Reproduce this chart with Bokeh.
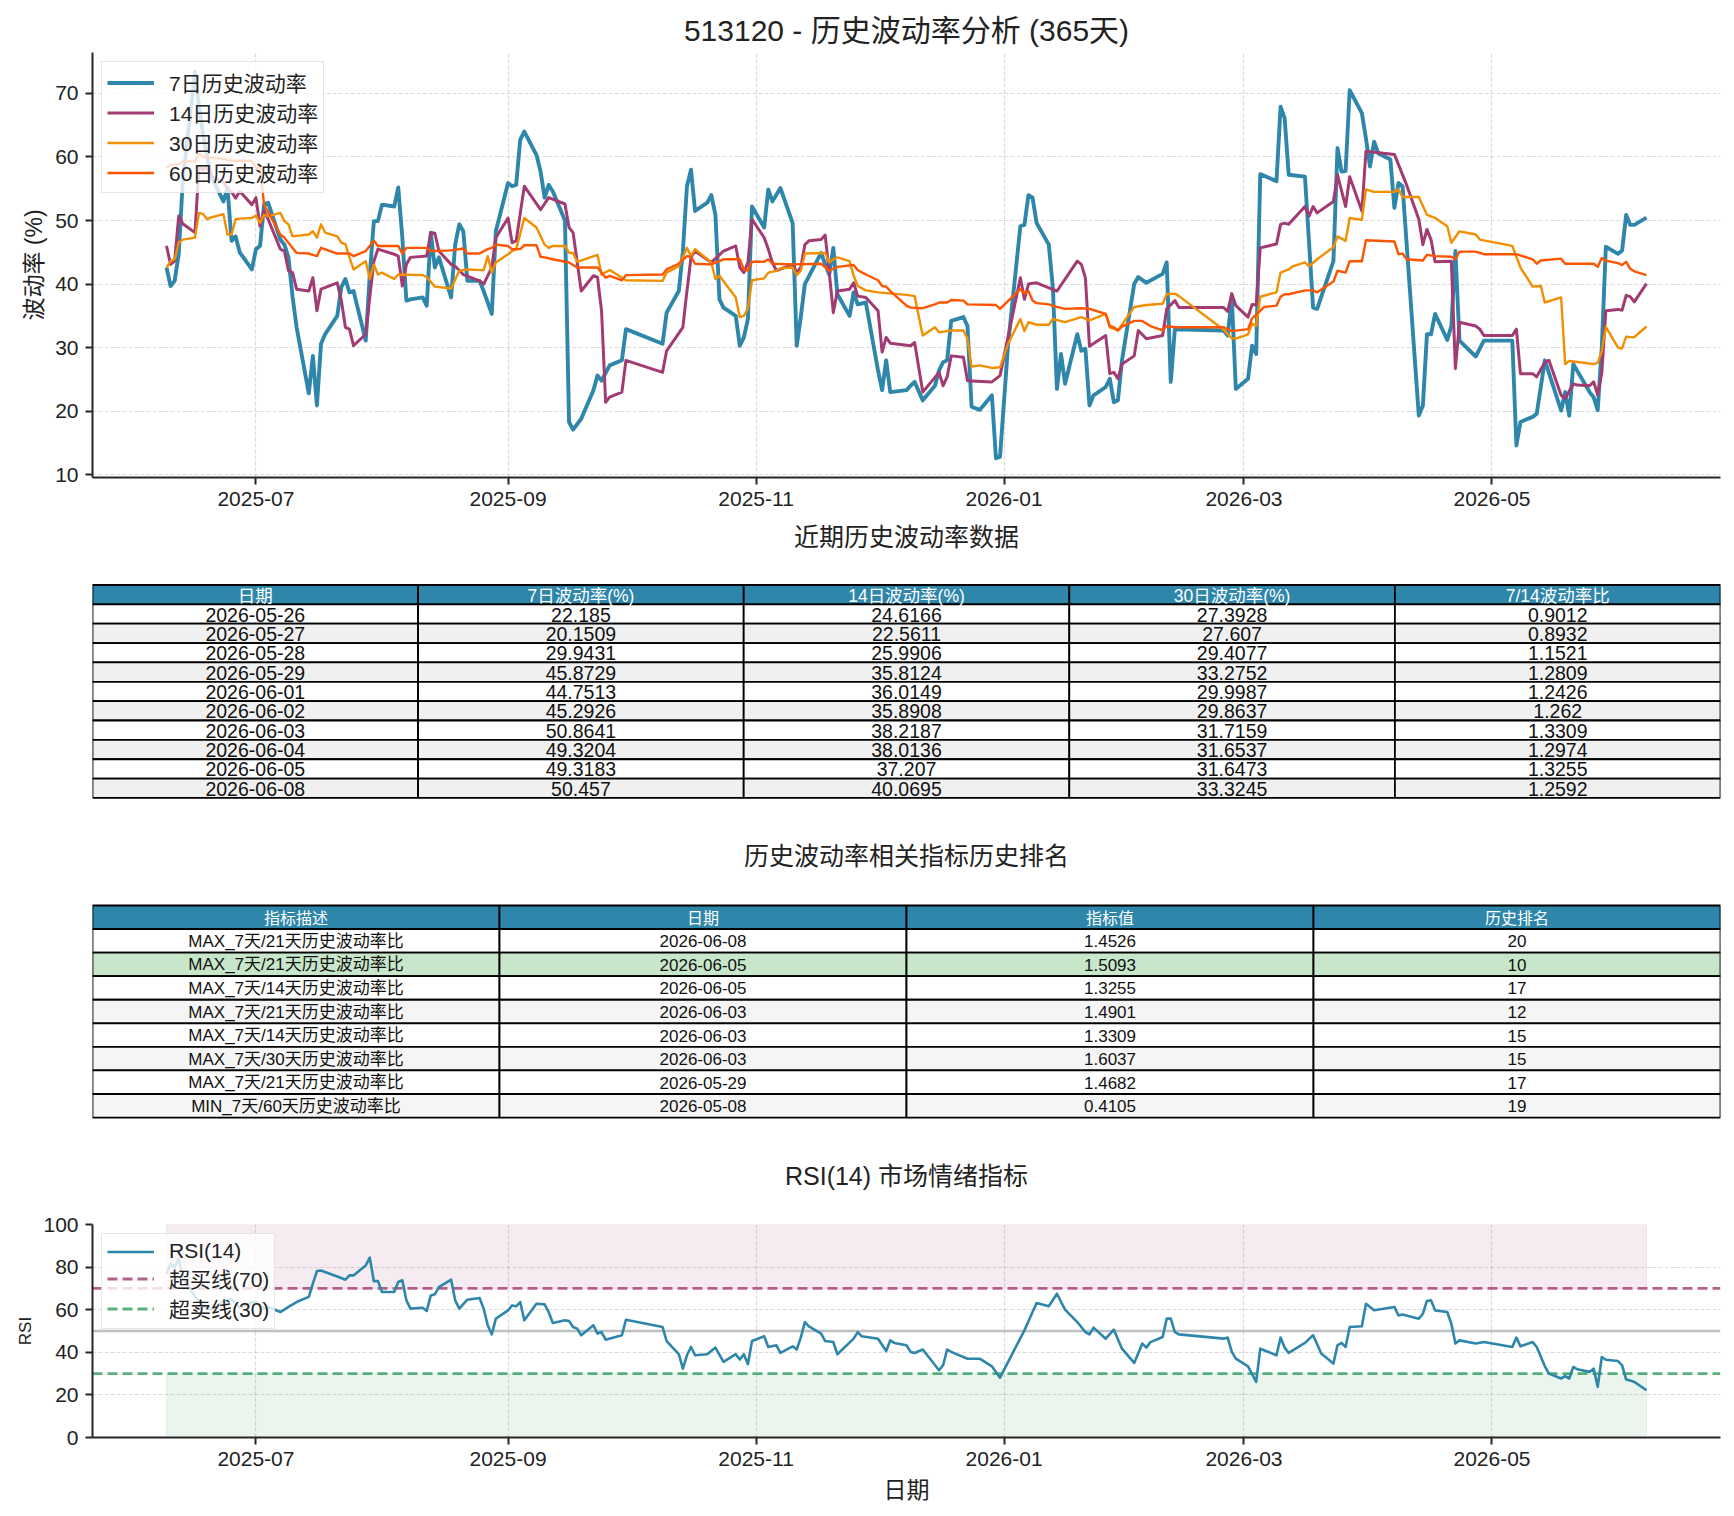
import pandas as pd
from bokeh.plotting import figure
from bokeh.models import Range1d, FixedTicker, DatetimeTickFormatter, Legend, LegendItem
from bokeh.layouts import column
from bokeh.core.properties import value
from bokeh.embed import file_html
from bokeh.resources import INLINE

FONT = "Liberation Sans, Noto Sans CJK SC"

# ---------------- data ----------------
vol7 = [
("2025-06-09",42.6),("2025-06-10",39.7),("2025-06-11",40.5),("2025-06-12",44.7),("2025-06-13",56.2),
("2025-06-16",73.4),("2025-06-17",68.0),("2025-06-18",63.5),("2025-06-19",60.0),("2025-06-20",57.0),
("2025-06-23",53.0),("2025-06-24",55.1),("2025-06-25",46.8),("2025-06-26",47.5),("2025-06-27",45.0),
("2025-06-30",42.3),("2025-07-01",45.5),("2025-07-02",46.0),("2025-07-03",52.5),("2025-07-04",52.8),
("2025-07-07",47.0),("2025-07-08",46.2),("2025-07-09",44.2),("2025-07-10",38.0),("2025-07-11",33.2),
("2025-07-14",22.8),("2025-07-15",28.7),("2025-07-16",20.9),("2025-07-17",30.6),("2025-07-18",32.1),
("2025-07-21",35.0),("2025-07-22",39.5),("2025-07-23",40.8),("2025-07-24",38.7),("2025-07-25",38.9),
("2025-07-28",31.1),("2025-07-29",41.5),("2025-07-30",49.9),("2025-07-31",49.9),("2025-08-01",52.5),
("2025-08-04",52.2),("2025-08-05",55.2),("2025-08-06",47.3),("2025-08-07",37.4),("2025-08-08",37.6),
("2025-08-11",37.9),("2025-08-12",36.6),("2025-08-13",48.1),("2025-08-14",42.6),("2025-08-15",44.2),
("2025-08-18",37.9),("2025-08-19",46.2),("2025-08-20",49.4),("2025-08-21",48.3),("2025-08-22",40.5),
("2025-08-25",40.5),("2025-08-26",38.9),("2025-08-28",35.3),("2025-08-29",48.3),("2025-09-01",55.9),
("2025-09-02",55.4),("2025-09-03",55.6),("2025-09-04",62.7),("2025-09-05",64.0),("2025-09-08",60.3),
("2025-09-09",57.7),("2025-09-10",53.6),("2025-09-11",55.6),("2025-09-12",54.6),("2025-09-15",50.0),
("2025-09-16",18.3),("2025-09-17",17.1),("2025-09-19",18.8),("2025-09-22",23.3),("2025-09-23",25.6),
("2025-09-24",24.8),("2025-09-26",27.2),("2025-09-29",28.0),("2025-09-30",32.9),("2025-10-09",30.6),
("2025-10-10",35.5),("2025-10-13",38.9),("2025-10-14",45.1),("2025-10-15",55.4),("2025-10-16",58.0),
("2025-10-17",51.5),("2025-10-20",52.8),("2025-10-21",54.0),("2025-10-22",50.9),("2025-10-23",37.6),
("2025-10-24",36.3),("2025-10-27",35.0),("2025-10-28",30.3),("2025-10-29",31.6),("2025-10-30",34.5),
("2025-10-31",52.2),("2025-11-03",48.9),("2025-11-04",54.9),("2025-11-05",53.0),("2025-11-07",55.1),
("2025-11-10",49.6),("2025-11-11",30.3),("2025-11-12",34.8),("2025-11-13",40.0),("2025-11-17",44.9),
("2025-11-18",43.1),("2025-11-19",41.5),("2025-11-20",45.7),("2025-11-21",38.4),("2025-11-24",35.0),
("2025-11-25",38.7),("2025-11-26",36.8),("2025-11-28",37.1),("2025-12-01",26.4),("2025-12-02",23.3),
("2025-12-03",28.0),("2025-12-04",23.0),("2025-12-08",23.3),("2025-12-09",24.0),("2025-12-10",24.6),
("2025-12-12",21.7),("2025-12-15",24.0),("2025-12-16",26.4),("2025-12-17",27.7),("2025-12-18",28.0),
("2025-12-19",34.2),("2025-12-22",34.8),("2025-12-23",33.4),("2025-12-24",20.7),("2025-12-26",20.2),
("2025-12-29",22.5),("2025-12-30",12.6),("2025-12-31",12.8),("2026-01-02",30.6),("2026-01-05",49.1),
("2026-01-06",49.3),("2026-01-07",54.0),("2026-01-08",53.6),("2026-01-09",49.6),("2026-01-12",46.2),
("2026-01-13",39.4),("2026-01-14",23.5),("2026-01-15",29.0),("2026-01-16",24.3),("2026-01-19",32.1),
("2026-01-20",29.5),("2026-01-21",29.8),("2026-01-22",20.9),("2026-01-23",22.5),("2026-01-26",23.8),
("2026-01-27",25.1),("2026-01-28",21.4),("2026-01-29",21.7),("2026-01-30",28.0),("2026-02-02",40.0),
("2026-02-03",41.1),("2026-02-05",40.2),("2026-02-09",41.6),("2026-02-10",43.4),("2026-02-11",24.6),
("2026-02-12",32.9),("2026-02-24",32.7),("2026-02-25",31.9),("2026-02-26",37.9),("2026-02-27",23.5),
("2026-03-02",25.1),("2026-03-03",30.3),("2026-03-04",29.0),("2026-03-05",57.3),("2026-03-09",56.2),
("2026-03-10",67.9),("2026-03-11",66.1),("2026-03-12",57.2),("2026-03-16",56.9),("2026-03-18",36.3),
("2026-03-19",36.1),("2026-03-23",43.6),("2026-03-24",61.4),("2026-03-25",57.7),("2026-03-26",57.8),
("2026-03-27",70.5),("2026-03-30",66.9),("2026-03-31",62.9),("2026-04-01",58.5),("2026-04-02",62.4),
("2026-04-03",60.6),("2026-04-06",59.6),("2026-04-07",52.0),("2026-04-08",55.9),("2026-04-09",55.4),
("2026-04-13",19.3),("2026-04-14",20.9),("2026-04-15",32.1),("2026-04-16",32.1),("2026-04-17",35.3),
("2026-04-20",31.2),("2026-04-21",33.4),("2026-04-22",45.2),("2026-04-23",31.1),("2026-04-27",28.6),
("2026-04-29",31.1),("2026-05-06",31.1),("2026-05-07",14.6),("2026-05-08",18.3),("2026-05-11",19.1),
("2026-05-12",19.6),("2026-05-14",28.0),("2026-05-18",20.1),("2026-05-19",23.0),("2026-05-20",19.3),
("2026-05-21",27.4),("2026-05-25",23.0),("2026-05-26",22.185),("2026-05-27",20.1509),("2026-05-28",29.9431),
("2026-05-29",45.8729),("2026-06-01",44.7513),("2026-06-02",45.2926),("2026-06-03",50.8641),("2026-06-04",49.3204),
("2026-06-05",49.3183),("2026-06-08",50.457)]

vol14 = [
("2025-06-09",46.0),("2025-06-10",43.1),("2025-06-11",43.6),("2025-06-12",50.7),("2025-06-13",49.5),
("2025-06-16",48.1),("2025-06-17",58.5),("2025-06-18",58.0),("2025-06-19",58.5),("2025-06-20",57.0),
("2025-06-23",56.0),("2025-06-24",55.0),("2025-06-25",54.5),("2025-06-26",53.5),("2025-06-27",54.6),
("2025-06-30",52.5),("2025-07-01",53.6),("2025-07-02",49.1),("2025-07-03",51.5),("2025-07-04",50.2),
("2025-07-07",45.5),("2025-07-08",45.2),("2025-07-09",42.1),("2025-07-10",41.8),("2025-07-11",39.2),
("2025-07-14",38.9),("2025-07-15",41.0),("2025-07-16",35.8),("2025-07-17",39.2),("2025-07-21",40.2),
("2025-07-22",37.4),("2025-07-23",33.2),("2025-07-24",32.9),("2025-07-25",30.3),("2025-07-28",32.1),
("2025-07-29",37.9),("2025-07-30",43.6),("2025-07-31",45.5),("2025-08-04",44.7),("2025-08-05",44.4),
("2025-08-06",39.7),("2025-08-07",43.1),("2025-08-08",44.2),("2025-08-12",44.4),("2025-08-13",48.1),
("2025-08-14",48.0),("2025-08-15",45.2),("2025-08-18",43.1),("2025-08-19",42.8),("2025-08-21",41.5),
("2025-08-25",40.5),("2025-08-26",40.0),("2025-08-28",42.6),("2025-08-29",47.3),("2025-09-01",50.4),
("2025-09-02",46.5),("2025-09-03",46.8),("2025-09-05",55.4),("2025-09-09",51.7),("2025-09-11",53.6),
("2025-09-15",52.6),("2025-09-16",48.9),("2025-09-17",48.1),("2025-09-19",38.9),("2025-09-22",41.3),
("2025-09-23",41.1),("2025-09-24",35.8),("2025-09-25",21.4),("2025-09-26",22.2),("2025-09-29",23.0),
("2025-09-30",28.0),("2025-10-09",26.1),("2025-10-10",29.5),("2025-10-14",33.2),("2025-10-15",38.9),
("2025-10-16",44.2),("2025-10-17",45.2),("2025-10-21",43.4),("2025-10-24",45.2),("2025-10-27",46.0),
("2025-10-28",42.6),("2025-10-29",41.8),("2025-10-30",43.4),("2025-10-31",50.2),("2025-11-03",47.3),
("2025-11-04",45.5),("2025-11-05",43.4),("2025-11-06",42.1),("2025-11-10",43.1),("2025-11-11",41.8),
("2025-11-12",42.6),("2025-11-13",46.2),("2025-11-14",46.8),("2025-11-17",47.0),("2025-11-18",47.7),
("2025-11-19",41.8),("2025-11-20",35.5),("2025-11-21",38.9),("2025-11-24",39.2),("2025-11-25",40.2),
("2025-11-26",38.1),("2025-11-28",37.9),("2025-12-01",35.8),("2025-12-02",29.3),("2025-12-03",31.6),
("2025-12-04",30.7),("2025-12-09",30.3),("2025-12-10",30.8),("2025-12-12",23.0),("2025-12-16",26.1),
("2025-12-17",24.0),("2025-12-18",25.4),("2025-12-19",28.7),("2025-12-22",28.5),("2025-12-23",24.8),
("2025-12-29",24.6),("2025-12-31",25.6),("2026-01-05",41.0),("2026-01-06",37.6),("2026-01-07",40.0),
("2026-01-09",40.2),("2026-01-14",38.9),("2026-01-19",43.6),("2026-01-20",43.1),("2026-01-21",41.0),
("2026-01-22",30.2),("2026-01-26",31.9),("2026-01-27",25.9),("2026-01-28",26.1),("2026-01-29",25.1),
("2026-01-30",27.4),("2026-02-02",28.7),("2026-02-03",32.7),("2026-02-05",31.4),("2026-02-09",31.9),
("2026-02-10",36.1),("2026-02-12",37.4),("2026-02-13",36.3),("2026-02-24",36.3),("2026-02-25",35.7),
("2026-02-26",38.5),("2026-02-27",36.6),("2026-03-02",34.8),("2026-03-03",36.8),("2026-03-04",36.7),
("2026-03-05",45.7),("2026-03-09",46.3),("2026-03-10",49.4),("2026-03-11",49.6),("2026-03-12",49.4),
("2026-03-16",52.2),("2026-03-17",50.7),("2026-03-18",52.2),("2026-03-19",51.2),("2026-03-23",53.0),
("2026-03-24",57.2),("2026-03-26",52.2),("2026-03-27",56.9),("2026-03-30",51.5),("2026-03-31",60.9),
("2026-04-07",60.4),("2026-04-08",58.8),("2026-04-10",55.6),("2026-04-13",50.2),("2026-04-14",46.2),
("2026-04-15",48.6),("2026-04-16",47.0),("2026-04-17",43.5),("2026-04-21",43.6),("2026-04-22",26.7),
("2026-04-23",34.0),("2026-04-27",33.4),("2026-04-28",32.9),("2026-04-29",31.9),("2026-05-06",31.9),
("2026-05-07",32.9),("2026-05-08",25.9),("2026-05-11",25.9),("2026-05-12",25.4),("2026-05-14",27.7),
("2026-05-15",28.0),("2026-05-18",22.5),("2026-05-19",22.0),("2026-05-21",24.3),("2026-05-22",24.1),
("2026-05-25",24.0),("2026-05-26",24.6166),("2026-05-27",22.5611),("2026-05-28",25.9906),("2026-05-29",35.8124),
("2026-06-01",36.0149),("2026-06-02",35.8908),("2026-06-03",38.2187),("2026-06-04",38.0136),("2026-06-05",37.207),
("2026-06-08",40.0695)]

vol30 = [
("2025-06-09",42.6),("2025-06-10",43.6),("2025-06-11",43.9),("2025-06-12",46.5),("2025-06-13",47.0),
("2025-06-16",47.3),("2025-06-17",51.2),("2025-06-18",51.0),("2025-06-19",50.2),("2025-06-20",50.5),
("2025-06-23",51.0),("2025-06-24",47.8),("2025-06-25",47.8),("2025-06-26",50.2),("2025-06-27",50.3),
("2025-06-30",50.4),("2025-07-01",50.8),("2025-07-02",49.6),("2025-07-03",50.9),("2025-07-04",50.7),
("2025-07-07",51.2),("2025-07-08",49.9),("2025-07-09",49.4),("2025-07-10",47.5),("2025-07-14",47.8),
("2025-07-15",48.3),("2025-07-16",47.3),("2025-07-17",49.4),("2025-07-18",48.1),("2025-07-21",47.5),
("2025-07-22",46.5),("2025-07-23",46.3),("2025-07-24",44.2),("2025-07-25",42.3),("2025-07-28",43.6),
("2025-07-29",40.8),("2025-07-30",43.1),("2025-07-31",41.5),("2025-08-01",41.8),("2025-08-04",40.8),
("2025-08-05",41.5),("2025-08-11",41.4),("2025-08-12",41.1),("2025-08-14",39.6),("2025-08-18",39.3),
("2025-08-20",42.1),("2025-08-22",42.3),("2025-08-26",42.2),("2025-08-27",44.4),("2025-08-28",41.8),
("2025-08-29",43.4),("2025-09-01",44.7),("2025-09-02",45.2),("2025-09-03",45.5),("2025-09-05",50.4),
("2025-09-08",48.9),("2025-09-10",46.2),("2025-09-11",45.7),("2025-09-12",46.0),("2025-09-15",46.0),
("2025-09-16",44.9),("2025-09-17",44.9),("2025-09-18",43.5),("2025-09-23",44.6),("2025-09-24",41.5),
("2025-09-26",42.2),("2025-09-30",40.6),("2025-10-09",40.5),("2025-10-10",41.8),("2025-10-13",42.8),
("2025-10-15",45.7),("2025-10-16",44.4),("2025-10-17",45.5),("2025-10-21",43.4),("2025-10-22",40.8),
("2025-10-23",41.3),("2025-10-27",37.9),("2025-10-28",34.8),("2025-10-29",35.0),("2025-10-30",36.1),
("2025-10-31",40.6),("2025-11-03",40.9),("2025-11-04",41.8),("2025-11-06",42.1),("2025-11-07",42.5),
("2025-11-10",42.6),("2025-11-11",41.4),("2025-11-12",42.1),("2025-11-13",44.8),("2025-11-18",44.9),
("2025-11-19",43.4),("2025-11-20",43.9),("2025-11-21",44.2),("2025-11-24",43.6),("2025-11-25",41.3),
("2025-11-26",39.7),("2025-11-28",39.0),("2025-12-01",38.7),("2025-12-08",38.3),("2025-12-10",38.1),
("2025-12-12",31.9),("2025-12-15",33.2),("2025-12-16",32.4),("2025-12-19",32.7),("2025-12-22",32.7),
("2025-12-23",31.4),("2025-12-24",27.0),("2025-12-26",27.2),("2025-12-29",26.8),("2025-12-31",26.9),
("2026-01-02",30.6),("2026-01-05",34.5),("2026-01-06",32.6),("2026-01-07",34.0),("2026-01-09",33.6),
("2026-01-12",33.6),("2026-01-13",34.5),("2026-01-16",34.0),("2026-01-20",34.8),("2026-01-22",34.3),
("2026-01-26",35.3),("2026-01-27",33.2),("2026-01-29",32.7),("2026-02-02",36.4),("2026-02-05",36.7),
("2026-02-09",36.9),("2026-02-10",38.4),("2026-02-12",38.5),("2026-02-13",38.1),("2026-02-24",32.8),
("2026-02-26",31.5),("2026-02-27",31.4),("2026-03-02",32.1),("2026-03-03",33.8),("2026-03-04",33.4),
("2026-03-05",38.0),("2026-03-09",38.7),("2026-03-10",41.8),("2026-03-12",42.3),("2026-03-13",42.8),
("2026-03-16",43.4),("2026-03-17",42.8),("2026-03-19",43.9),("2026-03-23",45.8),("2026-03-24",47.5),
("2026-03-26",46.8),("2026-03-27",50.4),("2026-03-30",50.1),("2026-03-31",54.9),("2026-04-02",54.5),
("2026-04-07",54.5),("2026-04-08",54.9),("2026-04-09",53.7),("2026-04-13",53.7),("2026-04-15",50.9),
("2026-04-17",50.4),("2026-04-20",49.1),("2026-04-21",46.5),("2026-04-23",48.3),("2026-04-27",47.8),
("2026-04-28",47.0),("2026-05-06",46.0),("2026-05-08",42.6),("2026-05-11",39.6),("2026-05-13",39.7),
("2026-05-14",37.1),("2026-05-18",37.9),("2026-05-19",27.4),("2026-05-20",27.9),("2026-05-25",27.5),
("2026-05-26",27.3928),("2026-05-27",27.607),("2026-05-28",29.4077),("2026-05-29",33.2752),("2026-06-01",29.9987),
("2026-06-02",29.8637),("2026-06-03",31.7159),("2026-06-04",31.6537),("2026-06-05",31.6473),("2026-06-08",33.3245)]

vol60 = [
("2025-06-09",58.3),("2025-06-10",58.8),("2025-06-12",58.8),("2025-06-13",59.3),("2025-06-16",59.3),
("2025-06-17",60.6),("2025-06-18",60.0),("2025-06-19",59.9),("2025-06-23",59.7),("2025-06-25",59.4),
("2025-06-30",59.4),("2025-07-01",58.2),("2025-07-02",58.5),("2025-07-03",52.5),("2025-07-07",47.8),
("2025-07-08",47.3),("2025-07-11",44.9),("2025-07-14",44.8),("2025-07-16",44.4),("2025-07-17",45.7),
("2025-07-21",44.8),("2025-07-24",44.8),("2025-07-25",44.4),("2025-07-28",45.2),("2025-07-30",46.8),
("2025-07-31",46.0),("2025-08-05",46.0),("2025-08-06",44.8),("2025-08-07",45.7),("2025-08-12",45.7),
("2025-08-13",45.2),("2025-08-18",45.3),("2025-08-21",45.6),("2025-08-22",44.8),("2025-08-25",44.8),
("2025-08-27",45.5),("2025-08-28",45.7),("2025-08-29",46.2),("2025-09-01",46.0),("2025-09-02",45.5),
("2025-09-04",45.5),("2025-09-05",46.1),("2025-09-08",46.1),("2025-09-09",44.3),("2025-09-10",44.2),
("2025-09-12",43.9),("2025-09-16",43.4),("2025-09-18",42.6),("2025-09-23",42.6),("2025-09-25",41.0),
("2025-09-26",41.3),("2025-09-29",40.6),("2025-09-30",41.4),("2025-10-09",41.5),("2025-10-10",42.3),
("2025-10-13",43.2),("2025-10-15",44.4),("2025-10-16",44.3),("2025-10-17",43.2),("2025-10-21",43.1),
("2025-10-24",43.9),("2025-10-28",43.9),("2025-10-29",42.3),("2025-10-30",42.1),("2025-10-31",43.5),
("2025-11-03",43.5),("2025-11-04",43.9),("2025-11-05",43.2),("2025-11-10",43.1),("2025-11-17",43.2),
("2025-11-19",42.1),("2025-11-21",42.7),("2025-11-25",43.0),("2025-11-26",42.2),("2025-11-28",41.5),
("2025-12-01",40.6),("2025-12-02",39.7),("2025-12-03",39.6),("2025-12-04",38.9),("2025-12-08",36.6),
("2025-12-09",36.3),("2025-12-12",36.2),("2025-12-15",36.8),("2025-12-16",37.1),("2025-12-18",37.1),
("2025-12-19",37.5),("2025-12-22",37.4),("2025-12-23",36.8),("2025-12-30",36.7),("2025-12-31",36.1),
("2026-01-05",39.2),("2026-01-06",38.5),("2026-01-07",38.9),("2026-01-08",37.4),("2026-01-09",37.0),
("2026-01-12",36.8),("2026-01-13",36.6),("2026-01-14",36.4),("2026-01-16",36.1),("2026-01-20",36.2),
("2026-01-22",36.1),("2026-01-26",35.3),("2026-01-27",33.4),("2026-01-28",33.2),("2026-01-29",32.7),
("2026-01-30",33.3),("2026-02-02",34.2),("2026-02-04",34.2),("2026-02-06",33.4),("2026-02-09",32.7),
("2026-02-10",33.4),("2026-02-12",33.2),("2026-02-24",33.2),("2026-02-26",32.6),("2026-03-02",32.9),
("2026-03-03",34.6),("2026-03-05",35.8),("2026-03-06",36.4),("2026-03-09",36.6),("2026-03-10",38.0),
("2026-03-11",38.4),("2026-03-12",38.4),("2026-03-16",39.0),("2026-03-18",39.0),("2026-03-19",38.7),
("2026-03-23",40.4),("2026-03-24",42.1),("2026-03-26",41.8),("2026-03-27",43.6),("2026-03-30",43.6),
("2026-03-31",46.9),("2026-04-07",46.7),("2026-04-08",44.7),("2026-04-09",44.8),("2026-04-10",43.9),
("2026-04-14",43.7),("2026-04-15",44.6),("2026-04-17",44.4),("2026-04-21",44.3),("2026-04-22",43.9),
("2026-04-23",45.1),("2026-04-27",45.1),("2026-04-29",44.7),("2026-05-07",44.7),("2026-05-11",43.9),
("2026-05-12",43.2),("2026-05-13",43.7),("2026-05-18",44.0),("2026-05-19",43.2),("2026-05-26",43.2),
("2026-05-27",42.7),("2026-05-28",44.1),("2026-05-29",43.7),("2026-06-01",43.3),("2026-06-02",43.0),
("2026-06-03",43.5),("2026-06-04",42.4),("2026-06-05",42.0),("2026-06-08",41.4)]

rsi14 = [
("2025-06-09",76.9),("2025-06-10",81.6),("2025-06-11",80.0),("2025-06-12",83.9),("2025-06-13",75.3),
("2025-06-16",66.0),("2025-06-18",62.0),("2025-06-20",60.0),("2025-06-23",64.0),("2025-06-25",65.0),
("2025-06-27",61.0),("2025-06-30",63.5),("2025-07-01",63.6),("2025-07-02",62.0),("2025-07-03",60.5),
("2025-07-04",61.3),("2025-07-07",58.9),("2025-07-09",61.3),("2025-07-11",63.6),("2025-07-14",66.0),
("2025-07-15",72.2),("2025-07-16",78.1),("2025-07-17",78.4),("2025-07-21",75.6),("2025-07-23",74.1),
("2025-07-24",76.1),("2025-07-25",76.1),("2025-07-28",80.8),("2025-07-29",84.4),("2025-07-30",73.4),
("2025-07-31",73.4),("2025-08-01",68.3),("2025-08-04",68.3),("2025-08-05",73.0),("2025-08-06",73.8),
("2025-08-07",64.4),("2025-08-08",60.5),("2025-08-11",60.9),("2025-08-12",59.4),("2025-08-13",66.7),
("2025-08-14",67.2),("2025-08-15",70.6),("2025-08-18",74.1),("2025-08-19",64.4),("2025-08-20",60.5),
("2025-08-22",64.7),("2025-08-25",65.5),("2025-08-26",60.5),("2025-08-27",52.7),("2025-08-28",48.4),
("2025-08-29",55.8),("2025-09-01",59.7),("2025-09-02",62.0),("2025-09-03",61.6),("2025-09-04",63.6),
("2025-09-05",55.0),("2025-09-08",62.8),("2025-09-10",62.5),("2025-09-11",58.9),("2025-09-12",53.8),
("2025-09-15",55.0),("2025-09-16",54.7),("2025-09-17",51.9),("2025-09-18",51.1),("2025-09-19",48.0),
("2025-09-22",52.7),("2025-09-23",48.8),("2025-09-24",49.5),("2025-09-25",45.9),("2025-09-29",48.0),
("2025-09-30",55.3),("2025-10-09",51.9),("2025-10-10",45.3),("2025-10-13",39.1),("2025-10-14",32.3),
("2025-10-15",38.6),("2025-10-16",42.5),("2025-10-17",38.6),("2025-10-20",39.1),("2025-10-22",42.2),
("2025-10-24",35.5),("2025-10-27",39.1),("2025-10-28",36.6),("2025-10-29",39.1),("2025-10-30",34.4),
("2025-10-31",45.3),("2025-11-03",47.5),("2025-11-04",42.5),("2025-11-06",43.3),("2025-11-07",39.7),
("2025-11-10",42.8),("2025-11-11",41.3),("2025-11-12",46.9),("2025-11-13",54.2),("2025-11-14",52.2),
("2025-11-17",48.8),("2025-11-18",45.3),("2025-11-20",44.8),("2025-11-21",39.1),("2025-11-25",46.4),
("2025-11-26",49.5),("2025-11-27",47.5),("2025-12-01",46.4),("2025-12-03",40.6),("2025-12-04",45.6),
("2025-12-05",44.4),("2025-12-08",43.3),("2025-12-09",40.2),("2025-12-10",39.7),("2025-12-12",41.3),
("2025-12-16",31.6),("2025-12-17",33.9),("2025-12-18",41.3),("2025-12-19",40.2),("2025-12-23",37.0),
("2025-12-26",37.0),("2025-12-29",33.4),("2025-12-31",28.1),("2026-01-02",35.5),("2026-01-06",50.3),
("2026-01-08",58.9),("2026-01-09",63.1),("2026-01-12",61.6),("2026-01-14",67.5),("2026-01-16",60.0),
("2026-01-19",54.2),("2026-01-21",49.5),("2026-01-22",48.4),("2026-01-23",51.6),("2026-01-26",46.4),
("2026-01-28",50.6),("2026-01-30",41.7),("2026-02-02",35.0),("2026-02-04",44.1),("2026-02-05",42.2),
("2026-02-06",44.8),("2026-02-09",47.2),("2026-02-10",55.8),("2026-02-11",55.8),("2026-02-12",49.5),
("2026-02-13",48.4),("2026-02-24",46.4),("2026-02-25",46.9),("2026-02-26",40.2),("2026-02-27",37.0),
("2026-03-02",33.4),("2026-03-04",26.1),("2026-03-05",41.7),("2026-03-09",38.6),("2026-03-10",46.9),
("2026-03-11",42.2),("2026-03-12",39.7),("2026-03-16",44.4),("2026-03-18",48.0),("2026-03-19",43.8),
("2026-03-20",39.4),("2026-03-23",34.7),("2026-03-24",43.3),("2026-03-25",44.4),("2026-03-26",42.5),
("2026-03-27",51.9),("2026-03-30",52.2),("2026-03-31",62.8),("2026-04-02",59.7),("2026-04-07",61.3),
("2026-04-08",57.3),("2026-04-09",57.8),("2026-04-13",55.8),("2026-04-14",58.1),("2026-04-15",64.1),
("2026-04-16",64.4),("2026-04-17",59.7),("2026-04-20",58.9),("2026-04-21",53.4),("2026-04-22",44.1),
("2026-04-23",45.6),("2026-04-27",44.1),("2026-04-29",44.8),("2026-05-06",42.5),("2026-05-07",46.9),
("2026-05-08",42.8),("2026-05-11",44.8),("2026-05-12",42.5),("2026-05-14",33.4),("2026-05-15",30.0),
("2026-05-18",27.7),("2026-05-19",28.8),("2026-05-20",27.7),("2026-05-21",33.1),("2026-05-22",32.0),
("2026-05-25",30.8),("2026-05-26",32.3),("2026-05-27",23.8),("2026-05-28",37.8),("2026-05-29",36.5),
("2026-06-01",35.9),("2026-06-02",33.9),("2026-06-03",27.2),("2026-06-04",26.8),("2026-06-05",26.1),
("2026-06-08",22.2)]

x_tick_dates = ["2025-07-01", "2025-09-01", "2025-11-01", "2026-01-01", "2026-03-01", "2026-05-01"]
vol_yticks = [10, 20, 30, 40, 50, 60, 70]
rsi_yticks = [0, 20, 40, 60, 80, 100]
OVERBOUGHT, OVERSOLD, MIDLINE = 70, 30, 50

recent_header = ["日期", "7日波动率(%)", "14日波动率(%)", "30日波动率(%)", "7/14波动率比"]
recent_dates = ["2026-05-26", "2026-05-27", "2026-05-28", "2026-05-29", "2026-06-01",
                "2026-06-02", "2026-06-03", "2026-06-04", "2026-06-05", "2026-06-08"]
recent_v7 = [22.185, 20.1509, 29.9431, 45.8729, 44.7513, 45.2926, 50.8641, 49.3204, 49.3183, 50.457]
recent_v14 = [24.6166, 22.5611, 25.9906, 35.8124, 36.0149, 35.8908, 38.2187, 38.0136, 37.207, 40.0695]
recent_v30 = [27.3928, 27.607, 29.4077, 33.2752, 29.9987, 29.8637, 31.7159, 31.6537, 31.6473, 33.3245]
recent_ratio = [0.9012, 0.8932, 1.1521, 1.2809, 1.2426, 1.262, 1.3309, 1.2974, 1.3255, 1.2592]

rank_header = ["指标描述", "日期", "指标值", "历史排名"]
rank_desc = ["MAX_7天/21天历史波动率比", "MAX_7天/21天历史波动率比", "MAX_7天/14天历史波动率比",
             "MAX_7天/21天历史波动率比", "MAX_7天/14天历史波动率比", "MAX_7天/30天历史波动率比",
             "MAX_7天/21天历史波动率比", "MIN_7天/60天历史波动率比"]
rank_dates = ["2026-06-08", "2026-06-05", "2026-06-05", "2026-06-03", "2026-06-03",
              "2026-06-03", "2026-05-29", "2026-05-08"]
rank_values = [1.4526, 1.5093, 1.3255, 1.4901, 1.3309, 1.6037, 1.4682, 0.4105]
rank_pos = [20, 10, 17, 12, 15, 15, 17, 19]

# ---------------- styling constants ----------------
W = 1734
LEFT, RIGHT = 92, 14
C7, C14, C30, C60 = "#2E86AB", "#A23B72", "#F18F01", "#FF5400"
C_OS = "#2E9E5B"
HEAD_BG = "#2E86AB"
AX_COL = "#262626"


def series(pairs):
    return pd.to_datetime([d for d, _ in pairs]), [v for _, v in pairs]


all_vol = [vol7, vol14, vol30, vol60]
t_all = pd.to_datetime([d for s in all_vol + [rsi14] for d, _ in s])
t0, t1 = t_all.min(), t_all.max()
pad = (t1 - t0) * 0.05
x_range = Range1d(start=t0 - pad, end=t1 + pad)

v_all = [v for s in all_vol for _, v in s]
vmin, vmax = min(v_all), max(v_all)
vpad = (vmax - vmin) * 0.05

tick_ms = [pd.Timestamp(d).value / 1e6 for d in x_tick_dates]
fmt = "%Y-%m"


def style_plot(p, yticks):
    p.outline_line_color = None
    p.background_fill_color = "white"
    p.border_fill_color = "white"
    p.xaxis.ticker = FixedTicker(ticks=tick_ms)
    p.xaxis.formatter = DatetimeTickFormatter(
        milliseconds=fmt, seconds=fmt, minsec=fmt, minutes=fmt, hourmin=fmt, hours=fmt,
        days=fmt, months=fmt, years=fmt)
    p.yaxis.ticker = FixedTicker(ticks=yticks)
    for ax in p.axis:
        ax.axis_line_color = AX_COL
        ax.axis_line_width = 2
        ax.major_tick_line_color = AX_COL
        ax.major_tick_line_width = 2
        ax.major_tick_out = 7
        ax.major_tick_in = 0
        ax.minor_tick_line_color = None
        ax.major_label_text_font = FONT
        ax.major_label_text_font_size = "21px"
        ax.major_label_text_color = "#222222"
        ax.major_label_standoff = 7
        ax.axis_label_text_font = FONT
        ax.axis_label_text_font_style = "normal"
        ax.axis_label_text_color = "#222222"
    for g in p.grid:
        g.grid_line_color = "#b0b0b0"
        g.grid_line_alpha = 0.45
        g.grid_line_dash = "4 2"
        g.grid_line_width = 1.2


def style_legend(lg):
    lg.location = "top_left"
    lg.label_text_font = FONT
    lg.label_text_font_size = "21px"
    lg.label_text_color = "#222222"
    lg.glyph_width = 47
    lg.glyph_height = 21
    lg.label_height = 21
    lg.label_standoff = 15
    lg.padding = 5
    lg.spacing = 0
    lg.margin = 9
    lg.border_line_color = "#cccccc"
    lg.border_line_width = 1.5
    lg.background_fill_color = "white"
    lg.background_fill_alpha = 0.8


# ---------------- figure 1: volatility ----------------
p1 = figure(width=W, height=515, x_axis_type="datetime", x_range=x_range,
            y_range=Range1d(vmin - vpad, vmax + vpad),
            output_backend="svg", toolbar_location=None,
            min_border_left=LEFT, min_border_right=RIGHT, min_border_top=52, min_border_bottom=38)
p1.title.text = "513120 - 历史波动率分析 (365天)"
p1.title.align = "center"
p1.title.text_font = FONT
p1.title.text_font_size = "30px"
p1.title.text_font_style = "normal"
p1.title.text_color = "#222222"
p1.title.standoff = 11
style_plot(p1, vol_yticks)
p1.yaxis.axis_label = "波动率 (%)"
p1.yaxis.axis_label_text_font_size = "23px"
p1.yaxis.axis_label_standoff = 5

items = []
for data, col, lw, lab in [(vol7, C7, 3.9, "7日历史波动率"), (vol14, C14, 3.0, "14日历史波动率"),
                           (vol30, C30, 2.4, "30日历史波动率"), (vol60, C60, 2.4, "60日历史波动率")]:
    xs, ys = series(data)
    r = p1.line(xs, ys, line_color=col, line_width=lw, line_join="round")
    items.append(LegendItem(label=lab, renderers=[r]))
lg1 = Legend(items=items)
style_legend(lg1)
p1.add_layout(lg1, "center")

# ---------------- figure 2: tables + RSI title canvas (1 data unit = 1 page pixel) ----------------
TOP_CV = 515
CH = 695
cv = figure(width=W, height=CH, x_range=Range1d(LEFT, W - RIGHT), y_range=Range1d(CH, 0),
            output_backend="svg", toolbar_location=None, min_border=0,
            min_border_left=LEFT, min_border_right=RIGHT,
            x_axis_location=None, y_axis_location=None)
cv.outline_line_color = None
cv.grid.visible = False
cv.background_fill_color = "white"
cv.border_fill_color = "white"

XC = (LEFT + (W - RIGHT)) / 2.0


def draw_title(text, y, size):
    cv.text(x=[XC], y=[y], text=[text], text_align="center", text_baseline="middle",
            text_font=value(FONT), text_font_size=value(size), text_color="#222222")


def draw_table(top, row_h, header, rows, row_fills, head_size, body_size):
    ncol = len(header)
    cw = (W - RIGHT - LEFT) / ncol
    L, R, T, B, F = [], [], [], [], []
    tx, ty, tt, tc = [], [], [], []
    all_rows = [header] + rows
    fills = [HEAD_BG] + row_fills
    for i, row in enumerate(all_rows):
        for j, cell in enumerate(row):
            L.append(LEFT + j * cw); R.append(LEFT + (j + 1) * cw)
            T.append(top + i * row_h); B.append(top + (i + 1) * row_h)
            F.append(fills[i])
            tx.append(LEFT + (j + 0.5) * cw)
            ty.append(top + (i + 0.5) * row_h + (1.5 if i == 0 else 0.5))
            tt.append(str(cell))
            tc.append("white" if i == 0 else "#111111")
    cv.quad(left=L, right=R, top=T, bottom=B, fill_color=F, line_color="black", line_width=1.8)
    n = ncol
    cv.text(x=tx[:n], y=ty[:n], text=tt[:n], text_color=tc[:n], text_align="center",
            text_baseline="middle", text_font=value(FONT), text_font_size=value(head_size))
    cv.text(x=tx[n:], y=ty[n:], text=tt[n:], text_color=tc[n:], text_align="center",
            text_baseline="middle", text_font=value(FONT), text_font_size=value(body_size))


draw_title("近期历史波动率数据", 536 - TOP_CV, "25px")
rows1 = [[d, a, b, c, r] for d, a, b, c, r in zip(recent_dates, recent_v7, recent_v14, recent_v30, recent_ratio)]
fills1 = ["white" if i % 2 == 0 else "#f0f0f0" for i in range(len(rows1))]
draw_table(584.5 - TOP_CV, 19.36, recent_header, rows1, fills1, "17.5px", "19.5px")

draw_title("历史波动率相关指标历史排名", 855 - TOP_CV, "25px")
rows2 = [[a, b, c, d] for a, b, c, d in zip(rank_desc, rank_dates, rank_values, rank_pos)]
fills2 = []
for i, rk in enumerate(rank_pos):
    if rk <= 10:
        fills2.append("#c8e6c9")
    else:
        fills2.append("white" if i % 2 == 0 else "#f5f5f5")
draw_table(905 - TOP_CV, 23.56, rank_header, rows2, fills2, "16px", "17px")

draw_title("RSI(14) 市场情绪指标", 1175 - TOP_CV, "25px")

# ---------------- figure 3: RSI ----------------
p3 = figure(width=W, height=300, x_axis_type="datetime", x_range=x_range, y_range=Range1d(0, 100),
            output_backend="svg", toolbar_location=None,
            min_border_left=LEFT, min_border_right=RIGHT, min_border_top=14, min_border_bottom=73)
style_plot(p3, rsi_yticks)
p3.yaxis.axis_label = "RSI"
p3.yaxis.axis_label_text_font_size = "17px"
p3.yaxis.axis_label_standoff = 5
p3.xaxis.axis_label = "日期"
p3.xaxis.axis_label_text_font_size = "23px"
p3.xaxis.axis_label_standoff = 8

rx, ry = series(rsi14)
p3.quad(left=[rx.min()], right=[rx.max()], bottom=[OVERBOUGHT], top=[100],
        fill_color=C14, fill_alpha=0.1, line_color=C14, line_alpha=0.1)
p3.quad(left=[rx.min()], right=[rx.max()], bottom=[0], top=[OVERSOLD],
        fill_color=C_OS, fill_alpha=0.1, line_color=C_OS, line_alpha=0.1)
p3.line([x_range.start, x_range.end], [MIDLINE, MIDLINE], line_color="#808080", line_alpha=0.5, line_width=2.5)
r_ob = p3.line([x_range.start, x_range.end], [OVERBOUGHT, OVERBOUGHT], line_color=C14, line_alpha=0.8,
               line_width=2.8, line_dash="10 5")
r_os = p3.line([x_range.start, x_range.end], [OVERSOLD, OVERSOLD], line_color=C_OS, line_alpha=0.8,
               line_width=2.8, line_dash="10 5")
r_rsi = p3.line(rx, ry, line_color=C7, line_width=2.6, line_join="round")
lg3 = Legend(items=[LegendItem(label="RSI(14)", renderers=[r_rsi]),
                    LegendItem(label="超买线(70)", renderers=[r_ob]),
                    LegendItem(label="超卖线(30)", renderers=[r_os])])
style_legend(lg3)
p3.add_layout(lg3, "center")

layout = column(p1, cv, p3, spacing=0)
open("out.html", "w").write(file_html(layout, INLINE))
